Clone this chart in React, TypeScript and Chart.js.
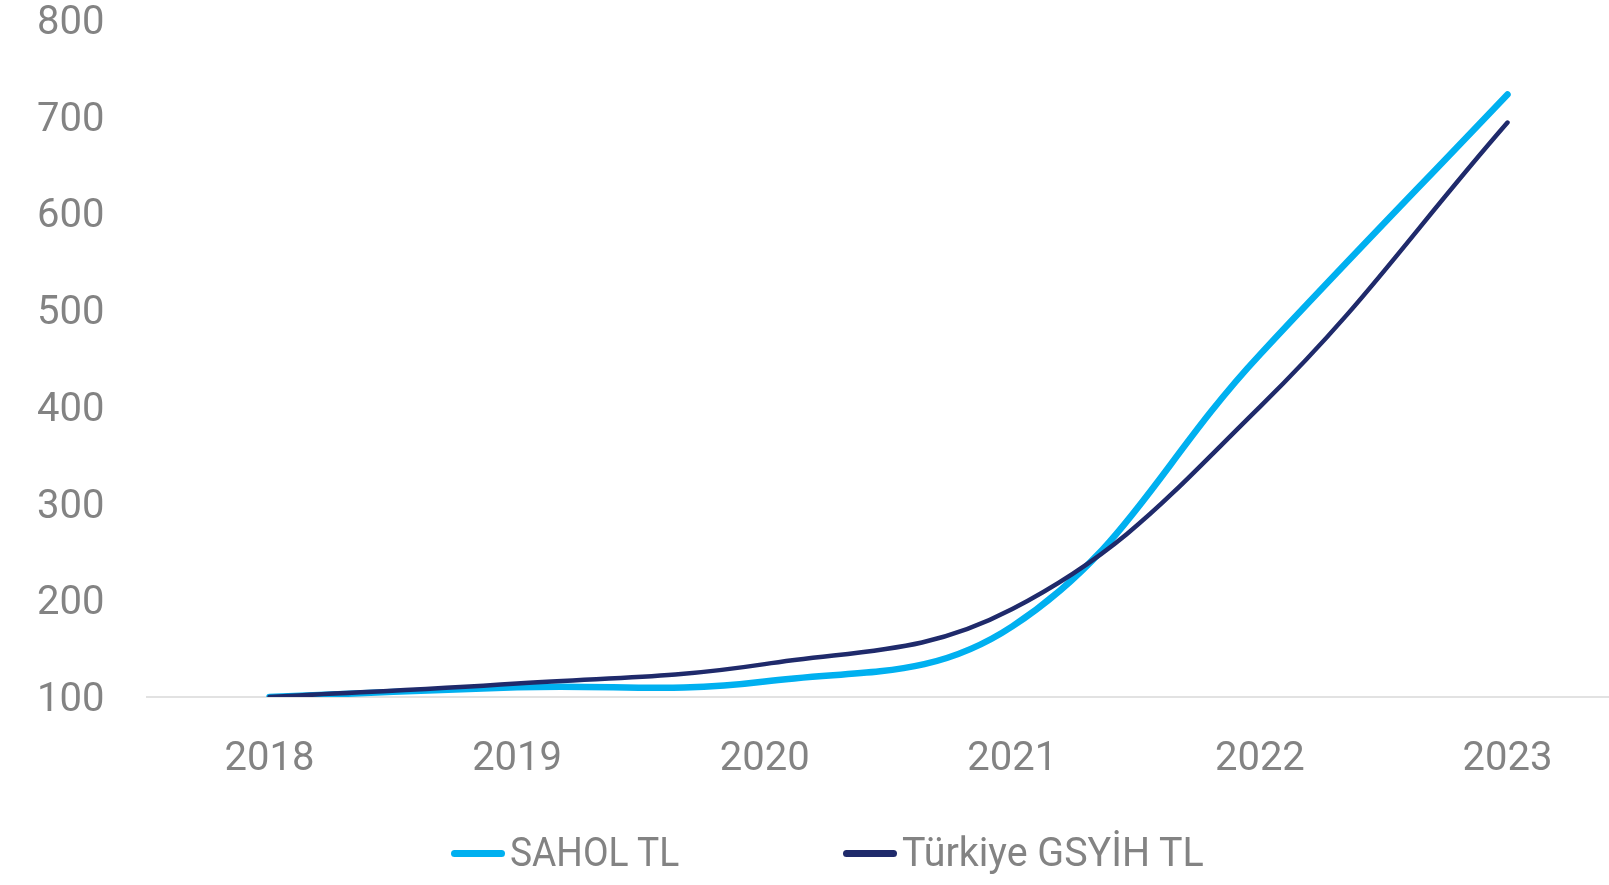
import React, { useEffect, useRef } from "react";
import { Chart, registerables } from "chart.js";

Chart.register(...registerables);

const years = [2018, 2019, 2020, 2021, 2022, 2023];
const saholTL = [100, 110, 116, 173, 454, 723];
const gsyihTL = [100, 114, 134, 191, 400, 694];
const seriesNames = ["SAHOL TL", "Türkiye GSYİH TL"];
const seriesColors = ["#00B0F0", "#1F2A6B"];
const yMin = 100;
const yMax = 800;
const yStep = 100;

const TEXT_GRAY = "#838383";
const FONT = "Roboto";

export default function App() {
  const canvasRef = useRef<HTMLCanvasElement | null>(null);

  useEffect(() => {
    const canvas = canvasRef.current;
    if (!canvas) return;
    const chart = new Chart(canvas, {
      type: "line",
      data: {
        datasets: [
          {
            label: seriesNames[0],
            data: years.map((x, i) => ({ x, y: saholTL[i] })),
            borderColor: seriesColors[0],
            backgroundColor: seriesColors[0],
            borderWidth: 6.5,
            borderCapStyle: "round",
            borderJoinStyle: "round",
            pointRadius: 0,
            tension: 0.4,
            order: 1,
          },
          {
            label: seriesNames[1],
            data: years.map((x, i) => ({ x, y: gsyihTL[i] })),
            borderColor: seriesColors[1],
            backgroundColor: seriesColors[1],
            borderWidth: 4.5,
            borderCapStyle: "round",
            borderJoinStyle: "round",
            pointRadius: 0,
            tension: 0.4,
            order: 0,
          },
        ],
      },
      options: {
        responsive: false,
        maintainAspectRatio: false,
        animation: false,
        devicePixelRatio: 1,
        layout: { padding: { left: 37, top: 20, right: 0, bottom: 105 } },
        plugins: {
          legend: { display: false },
          tooltip: { enabled: false },
        },
        scales: {
          x: {
            type: "linear",
            min: 2017.507,
            max: 2023.41,
            grid: {
              display: true,
              drawOnChartArea: false,
              drawTicks: true,
              tickLength: 43,
              color: "rgba(0,0,0,0)",
              tickColor: "rgba(0,0,0,0)",
            },
            border: { display: true, color: "#e2e2e2", width: 2 },
            afterBuildTicks: (scale: any) => {
              scale.ticks = years.map((v) => ({ value: v }));
            },
            ticks: {
              color: TEXT_GRAY,
              padding: 0,
              font: { family: FONT, size: 40, lineHeight: 1 },
              callback: (v: any) => String(v),
            },
          },
          y: {
            min: yMin,
            max: yMax,
            grid: {
              display: true,
              drawOnChartArea: false,
              drawTicks: true,
              tickLength: 43,
              color: "rgba(0,0,0,0)",
              tickColor: "rgba(0,0,0,0)",
            },
            border: { display: false },
            ticks: {
              stepSize: yStep,
              color: TEXT_GRAY,
              padding: 0,
              font: { family: FONT, size: 40, lineHeight: 0.2 },
              // empty first line nudges the visible label slightly down
              callback: (v: any) => ["", String(v)],
            },
          },
        },
      },
    } as any);
    return () => chart.destroy();
  }, []);

  const legendItems = [
    { name: seriesNames[0], color: seriesColors[0], left: 451, scale: 0.93 },
    { name: seriesNames[1], color: seriesColors[1], left: 843, scale: 0.985 },
  ];

  return (
    <div
      style={{
        position: "fixed",
        left: 0,
        top: 0,
        width: 1609,
        height: 885,
        background: "#ffffff",
        overflow: "hidden",
      }}
    >
      <canvas ref={canvasRef} width={1609} height={885} style={{ display: "block" }} />
      {legendItems.map((it) => (
        <div
          key={it.name}
          style={{
            position: "absolute",
            left: it.left,
            top: 853,
            transform: "translateY(-50%)",
            display: "flex",
            alignItems: "center",
            whiteSpace: "nowrap",
          }}
        >
          <div
            style={{
              width: 54,
              height: 7,
              borderRadius: 4,
              background: it.color,
            }}
          />
          <span
            style={{
              display: "inline-block",
              marginLeft: 5,
              fontFamily: FONT,
              fontSize: 40,
              lineHeight: "40px",
              color: TEXT_GRAY,
              transform: `scaleX(${it.scale})`,
              transformOrigin: "left center",
            }}
          >
            {it.name}
          </span>
        </div>
      ))}
    </div>
  );
}
